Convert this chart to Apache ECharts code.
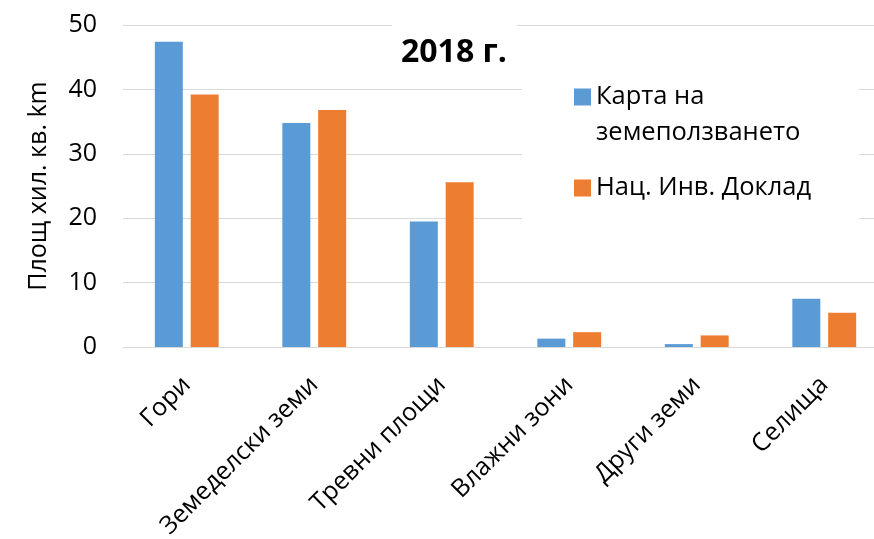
<!DOCTYPE html>
<html>
<head>
<meta charset="utf-8">
<script src="https://cdn.jsdelivr.net/npm/echarts@6/dist/echarts.min.js"></script>
<style>
  html, body { margin: 0; padding: 0; background: #fff; }
  #chart { width: 874px; height: 539px; }
</style>
</head>
<body>
<div id="chart"></div>
<script>
// land use categories, 2018
var categories = ['Гори', 'Земеделски земи', 'Тревни площи', 'Влажни зони', 'Други земи', 'Селища'];
var landUseMap = [47.4, 34.8, 19.5, 1.3, 0.45, 7.5];
var nirReport = [39.2, 36.8, 25.6, 2.3, 1.8, 5.3];
var seriesNames = ['Карта на землеползването', 'Нац. Инв. Доклад'];
var chartTitle = '2018 г.';
var yName = 'Площ хил. кв. km';

var font = 'Open Sans';
var myChart = echarts.init(document.getElementById('chart'));

var option = {
  backgroundColor: '#fff',
  animation: false,
  textStyle: { fontFamily: font },
  title: {
    text: chartTitle,
    left: 392,
    top: 10,
    padding: [23, 10, 5, 9],
    backgroundColor: '#fff',
    textStyle: { fontFamily: font, fontSize: 32, fontWeight: 'bold', color: '#000', lineHeight: 40 }
  },
  legend: {
    orient: 'vertical',
    left: 522,
    top: 39,
    padding: [4, 48, 45, 52],
    backgroundColor: '#fff',
    itemWidth: 17,
    itemHeight: 17,
    itemGap: 19,
    icon: 'rect',
    data: seriesNames,
    formatter: function (name) {
      // first entry wraps onto two lines, icon stays level with the first line
      return name === seriesNames[0] ? '\nКарта на\nземеползването' : name;
    },
    textStyle: { fontFamily: font, fontSize: 25.5, color: '#000', lineHeight: 36 }
  },
  // the plot runs past the right edge of the picture (it was cropped)
  grid: { left: 123, width: 765, top: 25, bottom: 192, outerBoundsMode: 'none' },
  xAxis: {
    type: 'category',
    data: categories,
    axisTick: { show: false },
    axisLine: { lineStyle: { color: '#d9d9d9', width: 1 } },
    axisLabel: { rotate: 45, margin: 34, fontSize: 25, color: '#000', fontFamily: font, interval: 0 }
  },
  yAxis: {
    type: 'value',
    min: 0,
    max: 50,
    interval: 10,
    name: yName,
    nameLocation: 'middle',
    nameGap: 72,
    nameTextStyle: { fontFamily: font, fontSize: 25, color: '#000' },
    axisLine: { show: false },
    axisTick: { show: false },
    splitLine: { lineStyle: { color: '#d9d9d9', width: 1 } },
    axisLabel: { margin: 26, fontSize: 25, color: '#000', fontFamily: font }
  },
  series: [
    {
      name: seriesNames[0],
      type: 'bar',
      barWidth: 28,
      barGap: '28%',
      itemStyle: { color: '#5B9BD5' },
      data: landUseMap
    },
    {
      name: seriesNames[1],
      type: 'bar',
      barWidth: 28,
      barGap: '28%',
      itemStyle: { color: '#ED7D31' },
      data: nirReport
    }
  ]
};

myChart.setOption(option);
</script>
</body>
</html>
